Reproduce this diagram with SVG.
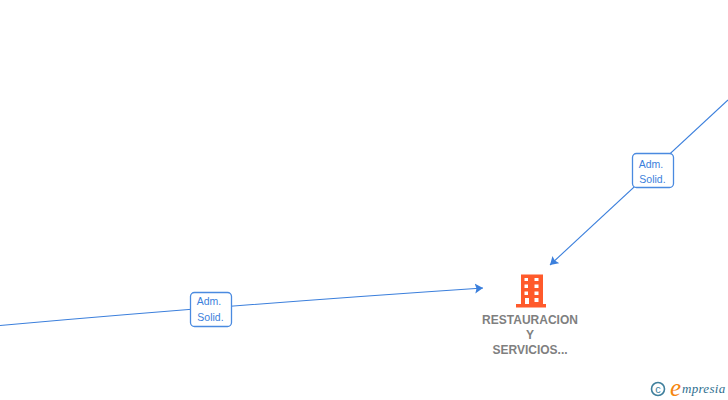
<svg xmlns="http://www.w3.org/2000/svg" width="728" height="400" viewBox="0 0 728 400">
<style>
.edge{fill:none;stroke:#3b7fdc;stroke-width:1.1}
.box{fill:#fff;stroke:#4a8ae0;stroke-width:1.3}
.lbl{font:10.500px "Liberation Sans",Arial,sans-serif;fill:#3b7fdc;text-anchor:middle}
.name{font:bold 12px "Liberation Sans",Arial,sans-serif;fill:#7f7f7f;text-anchor:middle}
</style>
<defs>
<marker id="arr" markerUnits="userSpaceOnUse" markerWidth="10" markerHeight="12" refX="8" refY="5" orient="auto">
<path d="M0 0L8 5L0 10L1.500 5Z" fill="#3b7fdc"/>
</marker>
</defs>
<rect width="728" height="400" fill="#fff"/>
<g id="connectors">
<path class="edge" d="M0 325.500Q230 305 483 288" marker-end="url(#arr)"/>
<path class="edge" d="M728 100L550 265" marker-end="url(#arr)"/>
</g>
<g id="label-left">
<rect class="box" x="190.500" y="292.500" width="41" height="34" rx="4"/>
<text class="lbl" x="209" y="305">Adm.</text>
<text class="lbl" x="210.500" y="321">Solid.</text>
</g>
<g id="label-right">
<rect class="box" x="632.500" y="153.500" width="41" height="34" rx="4"/>
<text class="lbl" x="651" y="168">Adm.</text>
<text class="lbl" x="652.500" y="183">Solid.</text>
</g>
<g id="node-restauracion">
<path fill="#ff5a2b" fill-rule="evenodd" d="M521 274.500H543V304H546V307.500H516V304H521ZM524.500 278V281H528V278ZM534.500 278V281H538.500V278ZM524.500 284.500V288H528V284.500ZM534.500 284.500V288H538.500V284.500ZM524.500 291.500V295H528V291.500ZM534.500 291.500V295H538.500V291.500ZM525 298V304H529V298ZM534.500 298V302H538.500V298Z"/>
<text class="name" x="530" y="324" textLength="96" lengthAdjust="spacing">RESTAURACION</text>
<text class="name" x="530" y="339">Y</text>
<text class="name" x="530" y="354">SERVICIOS...</text>
</g>
<g id="logo">
<circle cx="658" cy="389" r="6.500" fill="none" stroke="#3f7f9c" stroke-width="1.600"/>
<text x="658" y="393" font-family="Liberation Sans,sans-serif" font-size="11" fill="#3f7f9c" text-anchor="middle">c</text>
<text x="670" y="396" font-family="Liberation Serif,serif" font-style="italic" font-size="25" fill="#f5860f">e</text>
<text x="682" y="393" font-family="Liberation Serif,serif" font-style="italic" font-size="13" letter-spacing=".3" fill="#2f6f8f">mpresia</text>
</g>
</svg>
